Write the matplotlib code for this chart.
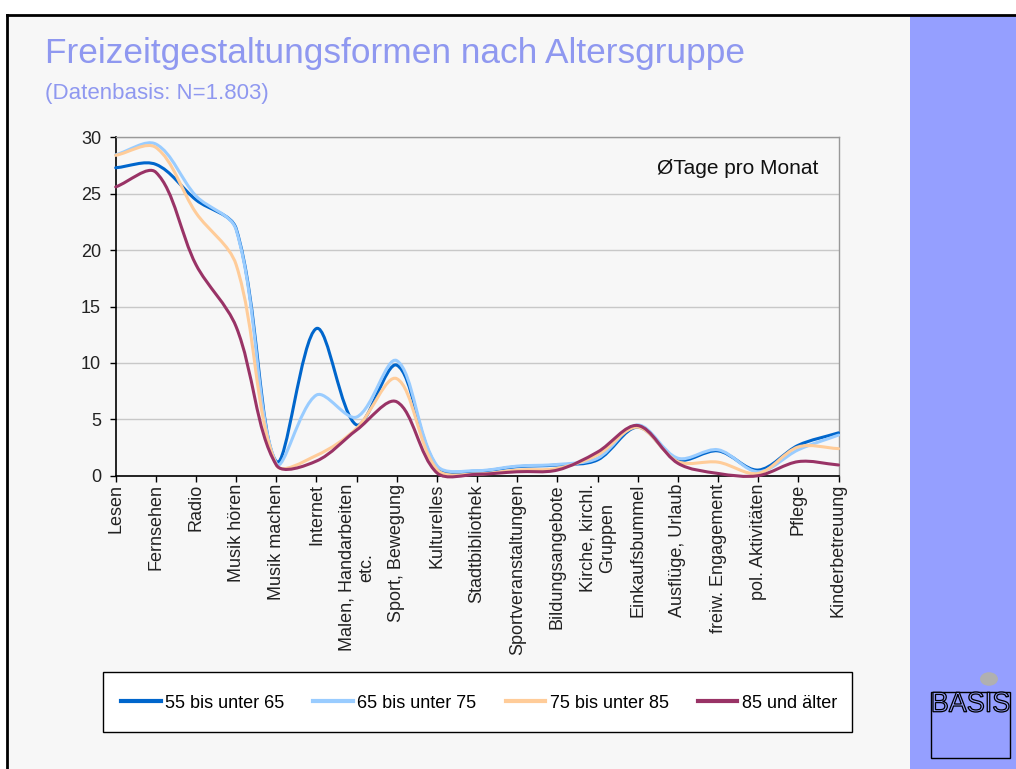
import matplotlib
matplotlib.use("Agg")
import matplotlib.pyplot as plt
import numpy as np
from matplotlib.path import Path
from matplotlib.patches import PathPatch, Rectangle, Circle
from matplotlib.lines import Line2D
from matplotlib.textpath import TextPath
from matplotlib.font_manager import FontProperties
from matplotlib.transforms import Affine2D

plt.rcParams['font.family'] = ['Liberation Sans', 'DejaVu Sans']

categories = ["Lesen", "Fernsehen", "Radio", "Musik hören", "Musik machen", "Internet",
              "Malen, Handarbeiten\netc.", "Sport, Bewegung", "Kulturelles", "Stadtbibliothek",
              "Sportveranstaltungen", "Bildungsangebote", "Kirche, kirchl.\nGruppen",
              "Einkaufsbummel", "Ausflüge, Urlaub", "freiw. Engagement", "pol. Aktivitäten",
              "Pflege", "Kinderbetreuung"]

s55 = [27.3, 27.6, 24.45, 21.9, 1.25, 13.05, 4.5, 9.8, 0.8, 0.4, 0.8, 0.95, 1.4, 4.3, 1.4, 2.2, 0.5, 2.7, 3.8]
s65 = [28.45, 29.4, 24.8, 21.8, 1.1, 7.15, 5.2, 10.2, 0.9, 0.45, 0.85, 1.0, 1.55, 4.5, 1.55, 2.3, 0.35, 2.3, 3.6]
s75 = [28.4, 29.1, 23.3, 18.7, 0.95, 1.8, 4.2, 8.6, 0.55, 0.15, 0.5, 0.65, 1.85, 4.3, 1.25, 1.2, 0.2, 2.55, 2.4]
s85 = [25.6, 26.9, 18.7, 13.2, 0.95, 1.3, 4.05, 6.55, 0.25, 0.12, 0.35, 0.5, 2.1, 4.45, 1.1, 0.2, 0.0, 1.25, 0.95]

series_names = ["55 bis unter 65", "65 bis unter 75", "75 bis unter 85", "85 und älter"]
series_values = [s55, s65, s75, s85]
series_colors = ["#0066CC", "#99CCFF", "#FFCC99", "#993366"]

yticks = [0, 5, 10, 15, 20, 25, 30]

BG = "#F7F7F7"
TITLE_C = "#8F98F0"
PANEL_C = "#959FFF"

W, H = 1016, 769
ax_l, ax_r, ax_t, ax_b = 115.7, 838.5, 137.3, 475.7
PX_X = (ax_r - ax_l) / (len(categories) - 1)   # pixels per category step
PX_Y = (ax_b - ax_t) / 30.0                     # pixels per unit


def smooth_path(x, y):
    """Bezier smoothing with chord-length-weighted tangents (like spreadsheet smoothed lines)."""
    pts = np.column_stack([x, y]).astype(float)
    scale = np.array([PX_X, PX_Y])
    n = len(pts)

    def dist(a, b):
        return np.hypot(*((pts[b] - pts[a]) * scale))

    verts = [pts[0]]
    codes = [Path.MOVETO]
    for i in range(n - 1):
        d01 = dist(i - 1, i) if i > 0 else 0.0
        d12 = dist(i, i + 1)
        d23 = dist(i + 1, i + 2) if i + 2 < n else 0.0
        p0 = pts[i - 1] if i > 0 else pts[i]
        p1 = pts[i]
        p2 = pts[i + 1]
        p3 = pts[i + 2] if i + 2 < n else pts[i + 1]
        if i > 0:
            c1 = p1 + (p2 - p0) * d12 / (d01 + d12) / 3.0
        else:
            c1 = p1 + (p2 - p1) / 3.0
        if i + 2 < n:
            c2 = p2 - (p3 - p1) * d12 / (d12 + d23) / 3.0
        else:
            c2 = p2 - (p2 - p1) / 3.0
        verts += [c1, c2, p2]
        codes += [Path.CURVE4] * 3
    return Path(verts, codes)


fig = plt.figure(figsize=(W / 100, H / 100), dpi=100)
fig.patch.set_facecolor("white")

# slide background
fig.add_artist(Rectangle((7 / W, 0), 1 - 7 / W, 1 - 15 / H, transform=fig.transFigure,
                         facecolor=BG, edgecolor="none", zorder=0))
# right panel
fig.add_artist(Rectangle((910 / W, 0), 1 - 910 / W, 1 - 15 / H, transform=fig.transFigure,
                         facecolor=PANEL_C, edgecolor="none", zorder=1))
# border lines
fig.add_artist(Line2D([7 / W, 1], [1 - 15 / H, 1 - 15 / H], transform=fig.transFigure,
                      color="black", lw=2, zorder=2))
fig.add_artist(Line2D([7 / W, 7 / W], [0, 1 - 15 / H], transform=fig.transFigure,
                      color="black", lw=2, zorder=2))

# titles
fig.text(45 / W, 1 - 53 / H, "Freizeitgestaltungsformen nach Altersgruppe",
         color=TITLE_C, fontsize=25.4, ha="left", va="center")
fig.text(45 / W, 1 - 93 / H, "(Datenbasis: N=1.803)",
         color=TITLE_C, fontsize=16, ha="left", va="center")

ax = fig.add_axes([ax_l / W, 1 - ax_b / H, (ax_r - ax_l) / W, (ax_b - ax_t) / H])
ax.set_facecolor(BG)

x = np.arange(len(categories))
for vals, col in zip(series_values, series_colors):
    patch = PathPatch(smooth_path(x, vals), facecolor="none", edgecolor=col, lw=2.2,
                      clip_on=False, zorder=3, capstyle="round", joinstyle="round")
    ax.add_patch(patch)

ax.set_xlim(0, len(categories) - 1)
ax.set_ylim(0, 30)
ax.set_yticks(yticks)
ax.set_yticklabels([str(v) for v in yticks], fontsize=13, color="#222222")
ax.set_xticks(x)
ax.set_xticklabels(categories, rotation=90, fontsize=13, ha="center", va="top",
                   multialignment="center", color="#222222")
ax.tick_params(axis="y", direction="out", length=4.5, width=1, pad=6, colors="black",
               labelcolor="#222222")
ax.tick_params(axis="x", direction="out", length=4.5, width=1, pad=1.5, colors="black",
               labelcolor="#222222")
ax.grid(axis="y", color="#C8C8C8", lw=1)
ax.set_axisbelow(True)
for s in ["left", "bottom"]:
    ax.spines[s].set_color("black")
    ax.spines[s].set_linewidth(1.2)
for s in ["top", "right"]:
    ax.spines[s].set_color("#999999")
    ax.spines[s].set_linewidth(1.0)

ax.text((818 - ax_l) / (ax_r - ax_l), (ax_b - 168) / (ax_b - ax_t), "ØTage pro Monat",
        transform=ax.transAxes, ha="right", va="center", fontsize=15, color="#111111")

# legend box
fig.add_artist(Rectangle((103 / W, 1 - 732 / H), (852 - 103) / W, 60 / H,
                         transform=fig.transFigure, facecolor="white", edgecolor="black",
                         lw=1, zorder=2))
handles = [Line2D([0], [0], color=c, lw=3) for c in series_colors]
leg = fig.legend(handles, series_names, loc="center", bbox_to_anchor=(479 / W, 1 - 703 / H),
                 ncol=4, frameon=False, fontsize=13, handlelength=2.2, handletextpad=0.25,
                 columnspacing=1.6)
leg.set_zorder(5)

# logo
fig.add_artist(Circle((989 / W, 1 - 679 / H), 0.0088, transform=fig.transFigure,
                      facecolor="#B0B0B0", edgecolor="none", zorder=3))
fig.add_artist(Rectangle((931 / W, 1 - 758 / H), 79 / W, 66 / H, transform=fig.transFigure,
                         facecolor="none", edgecolor="black", lw=1, zorder=3))
tp = TextPath((0, 0), "BASIS", size=20, prop=FontProperties(family="Liberation Sans"))
ext = tp.get_extents()
x0p, x1p, y_top, y_bot = 933, 1009, 692, 712
sx = (x1p - x0p) / W / ext.width
sy = (y_bot - y_top) / H / ext.height
tr = Affine2D().translate(-ext.x0, -ext.y0).scale(sx, sy).translate(x0p / W, 1 - y_bot / H)
fig.add_artist(PathPatch(tr.transform_path(tp), transform=fig.transFigure,
                         facecolor=PANEL_C, edgecolor="black", lw=0.9, zorder=4))

fig.savefig("out.png", dpi=100, facecolor=fig.get_facecolor())
